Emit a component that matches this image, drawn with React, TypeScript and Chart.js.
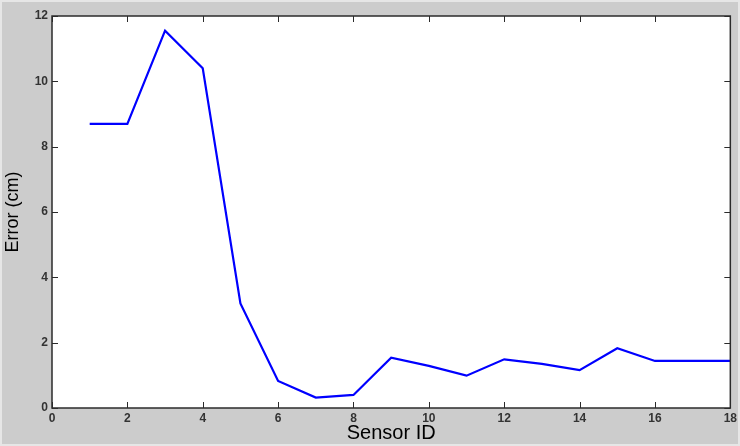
import React, { useEffect, useRef } from "react";
import { Chart, registerables } from "chart.js";

Chart.register(...registerables);

const sensorIds = [1, 2, 3, 4, 5, 6, 7, 8, 9, 10, 11, 12, 13, 14, 15, 16, 17, 18];
const errors = [8.7, 8.7, 11.55, 10.4, 3.2, 0.83, 0.32, 0.4, 1.54, 1.29, 0.99, 1.49, 1.35, 1.16, 1.83, 1.44, 1.44, 1.44];
const xTicks = [0, 2, 4, 6, 8, 10, 12, 14, 16, 18];
const yTicks = [0, 2, 4, 6, 8, 10, 12];
const xTitle = "Sensor ID";
const yTitle = "Error (cm)";

const matlabFrame = {
  id: "matlabFrame",
  beforeDraw(chart: any) {
    const { ctx, width, height, chartArea } = chart;
    ctx.save();
    ctx.fillStyle = "#e6e6e6";
    ctx.fillRect(0, 0, width, height);
    ctx.fillStyle = "#cccccc";
    ctx.fillRect(2, 2, width - 4, height - 4);
    ctx.fillStyle = "#ffffff";
    ctx.fillRect(chartArea.left, chartArea.top, chartArea.right - chartArea.left, chartArea.bottom - chartArea.top);
    ctx.restore();
  },
  afterDraw(chart: any) {
    const { ctx, chartArea } = chart;
    const { left, right, top, bottom } = chartArea;
    const xs = chart.scales.x;
    const ys = chart.scales.y;
    const len = 6;
    ctx.save();
    ctx.strokeStyle = "#2b2b2b";
    ctx.lineWidth = 1.5;
    ctx.strokeRect(left, top, right - left, bottom - top);
    ctx.lineWidth = 1;
    ctx.beginPath();
    xTicks.forEach((v) => {
      const px = Math.round(xs.getPixelForValue(v)) + 0.5;
      ctx.moveTo(px, bottom);
      ctx.lineTo(px, bottom - len);
      ctx.moveTo(px, top);
      ctx.lineTo(px, top + len);
    });
    yTicks.forEach((v) => {
      const py = Math.round(ys.getPixelForValue(v)) + 0.5;
      ctx.moveTo(left, py);
      ctx.lineTo(left + len, py);
      ctx.moveTo(right, py);
      ctx.lineTo(right - len, py);
    });
    ctx.stroke();
    ctx.restore();
  },
};

export default function App() {
  const ref = useRef<HTMLCanvasElement>(null);

  useEffect(() => {
    document.body.style.margin = "0";
    const chart = new Chart(ref.current as HTMLCanvasElement, {
      type: "line",
      data: {
        datasets: [
          {
            data: sensorIds.map((x, i) => ({ x, y: errors[i] })),
            borderColor: "#0000ff",
            borderWidth: 2.2,
            pointRadius: 0,
            tension: 0,
            fill: false,
          },
        ],
      },
      options: {
        responsive: false,
        animation: false,
        layout: { padding: { top: 16, right: 8, left: 0, bottom: 0 } },
        plugins: { legend: { display: false }, tooltip: { enabled: false } },
        scales: {
          x: {
            type: "linear",
            min: 0,
            max: 18,
            afterBuildTicks: (s: any) => {
              s.ticks = xTicks.map((v) => ({ value: v }));
            },
            afterFit: (s: any) => {
              s.height = 38;
            },
            grid: { display: false, drawTicks: false },
            border: { display: false },
            ticks: {
              padding: 3,
              color: "#333333",
              font: { family: "Liberation Sans", size: 12, weight: "bold" },
              maxRotation: 0,
              autoSkip: false,
            },
            title: {
              display: true,
              text: xTitle,
              color: "#000000",
              font: { family: "Liberation Sans", size: 20 },
              padding: { top: 0, bottom: 1 },
            },
          },
          y: {
            type: "linear",
            min: 0,
            max: 12,
            afterBuildTicks: (s: any) => {
              s.ticks = yTicks.map((v) => ({ value: v }));
            },
            afterFit: (s: any) => {
              s.width = 52;
            },
            grid: { display: false, drawTicks: false },
            border: { display: false },
            ticks: {
              padding: 4,
              color: "#333333",
              font: { family: "Liberation Sans", size: 12, weight: "bold" },
              autoSkip: false,
            },
            title: {
              display: true,
              text: yTitle,
              color: "#000000",
              font: { family: "Liberation Sans", size: 18 },
              padding: { top: 2, bottom: 0 },
            },
          },
        },
      },
      plugins: [matlabFrame],
    });
    return () => chart.destroy();
  }, []);

  return (
    <div style={{ position: "absolute", left: 0, top: 0, width: 740, height: 446 }}>
      <canvas ref={ref} width={740} height={446} />
    </div>
  );
}
